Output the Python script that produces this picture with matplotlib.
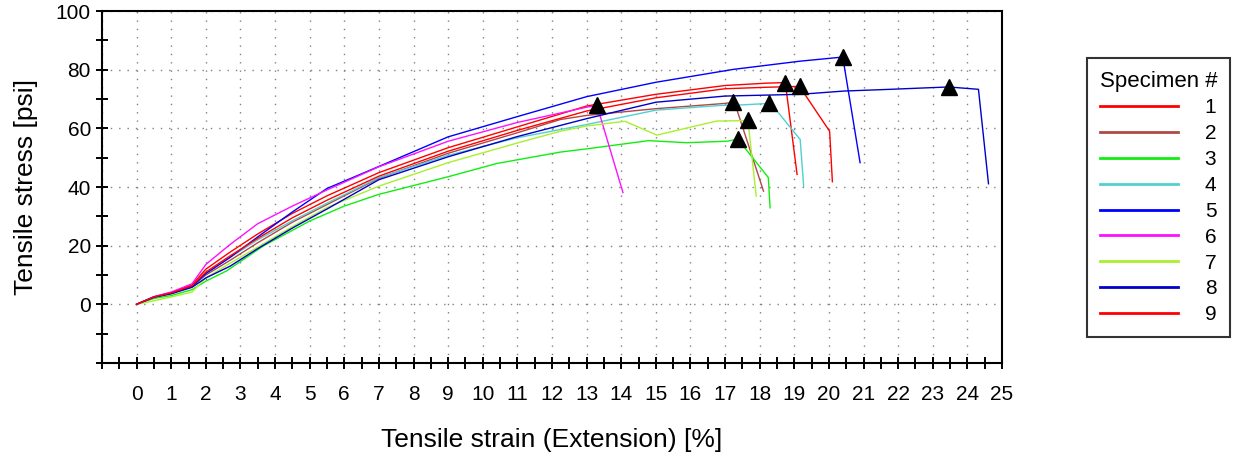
import numpy as np
import matplotlib
matplotlib.use("Agg")
import matplotlib.pyplot as plt

plt.rcParams['font.family'] = ['Liberation Sans', 'DejaVu Sans']

# strain [%] / stress [psi] for each specimen
s1_x = [0, 0.5, 1.0, 1.6, 2.0, 2.7, 3.5, 4.5, 5.5, 7.0, 9.0, 11.0, 13.0, 15.0, 17.0, 18.2, 18.74, 19.08]
s1_y = [0, 2.6, 4.0, 6.6, 12.0, 17.8, 24.0, 31.0, 37.0, 44.9, 53.4, 60.5, 67.6, 71.6, 74.6, 75.4, 75.6, 44.3]

s2_x = [0, 0.5, 1.0, 1.6, 2.0, 2.7, 3.5, 4.5, 5.5, 7.0, 9.0, 11.0, 12.24, 13.0, 15.0, 17.0, 17.23, 17.34, 18.11]
s2_y = [0, 2.5, 3.8, 6.2, 10.0, 15.0, 21.0, 28.0, 34.0, 43.0, 51.5, 58.5, 63.0, 64.4, 66.7, 68.5, 68.9, 66.4, 38.6]

s3_x = [0, 0.5, 1.0, 1.6, 2.0, 2.6, 3.66, 5.0, 6.0, 7.0, 9.0, 10.4, 12.24, 13.0, 14.79, 15.9, 17.05, 17.37, 18.25, 18.3]
s3_y = [0, 2.0, 3.0, 5.0, 7.9, 11.4, 19.9, 28.4, 33.5, 37.5, 43.5, 48.0, 51.9, 53.0, 55.8, 55.1, 55.6, 56.3, 43.2, 32.9]

s4_x = [0, 0.5, 1.0, 1.6, 2.0, 2.7, 3.5, 4.5, 5.5, 7.0, 9.0, 11.0, 13.0, 15.0, 16.86, 17.5, 18.28, 18.5, 19.17, 19.27]
s4_y = [0, 2.4, 3.8, 6.0, 10.5, 16.0, 22.0, 28.5, 34.5, 43.2, 50.8, 56.8, 61.3, 66.2, 67.8, 68.0, 68.5, 65.9, 56.2, 40.3]

s5_x = [0, 0.5, 1.0, 1.6, 2.0, 2.7, 3.5, 4.5, 5.5, 7.0, 9.0, 11.0, 13.0, 15.0, 17.24, 19.17, 20.4, 20.9]
s5_y = [0, 2.5, 3.8, 6.0, 10.5, 16.0, 23.0, 31.5, 39.5, 47.0, 57.1, 64.0, 70.8, 75.7, 80.1, 82.9, 84.3, 48.3]

s6_x = [0, 0.5, 1.0, 1.6, 2.0, 2.7, 3.5, 4.5, 5.5, 7.0, 9.0, 11.0, 13.0, 13.3, 14.05]
s6_y = [0, 2.6, 4.2, 7.0, 13.6, 20.4, 27.5, 33.5, 39.0, 46.9, 55.6, 62.0, 67.2, 67.8, 38.1]

s7_x = [0, 0.5, 1.0, 1.6, 2.0, 2.7, 3.5, 4.5, 5.5, 7.0, 9.0, 11.0, 12.24, 13.0, 14.11, 15.03, 16.76, 17.44, 17.66, 17.9]
s7_y = [0, 1.2, 2.5, 4.2, 9.0, 14.0, 19.5, 26.5, 33.0, 40.3, 48.3, 55.0, 59.0, 60.8, 62.4, 57.7, 62.5, 62.6, 62.7, 36.9]

s8_x = [0, 0.5, 1.0, 1.6, 2.0, 2.7, 3.5, 4.5, 5.5, 7.0, 9.0, 11.0, 13.0, 15.0, 17.0, 19.17, 20.42, 21.77, 23.02, 23.46, 24.32, 24.61]
s8_y = [0, 2.4, 3.6, 5.8, 9.0, 13.0, 19.0, 26.0, 32.5, 42.5, 50.3, 57.2, 63.3, 68.9, 71.0, 71.6, 72.7, 73.3, 73.9, 74.1, 73.3, 41.1]

s9_x = [0, 0.5, 1.0, 1.6, 2.0, 2.7, 3.5, 4.5, 5.5, 7.0, 9.0, 11.0, 13.0, 15.0, 17.0, 18.2, 18.8, 19.15, 20.02, 20.1]
s9_y = [0, 2.5, 3.9, 6.3, 11.0, 16.5, 22.5, 29.5, 35.5, 43.7, 52.2, 59.3, 65.9, 70.4, 73.5, 74.0, 74.2, 74.3, 59.0, 41.8]

specimens = ["1", "2", "3", "4", "5", "6", "7", "8", "9"]
xs = [s1_x, s2_x, s3_x, s4_x, s5_x, s6_x, s7_x, s8_x, s9_x]
ys = [s1_y, s2_y, s3_y, s4_y, s5_y, s6_y, s7_y, s8_y, s9_y]
colors = ["#ff0000", "#b04848", "#10ee10", "#50d0d0", "#0000ff",
          "#ff10ff", "#a8f030", "#0000c8", "#ff0000"]

fig = plt.figure(figsize=(12.36, 4.55), dpi=100)
ax = fig.add_axes([102 / 1236, 1 - 363 / 455, 900 / 1236, 352 / 455])

handles = []
for name, x, y, c in zip(specimens, xs, ys, colors):
    ln, = ax.plot(x, y, color=c, linewidth=1.0, label=name)
    handles.append(ln)
    # black triangle at the break (max stress)
    k = int(np.argmax(y))
    ax.plot(x[k], y[k], marker="^", color="black", markersize=11, zorder=5)

ax.set_xlim(-1, 25)
ax.set_ylim(-20, 100)

xt = np.arange(-1, 26, 1)
ax.set_xticks(xt)
ax.set_xticklabels(["" if v < 0 else str(v) for v in xt])
ax.set_xticks(np.arange(-0.5, 25, 1), minor=True)
yt = np.arange(-20, 101, 20)
ax.set_yticks(yt)
ax.set_yticklabels(["" if v < 0 else str(v) for v in yt])
ax.set_yticks(np.arange(-10, 100, 20), minor=True)

ax.tick_params(which="both", direction="inout", length=8, width=1.4, labelsize=15)
ax.tick_params(axis="x", which="both", pad=12)
ax.tick_params(axis="y", which="both", pad=4)

ax.grid(True, which="major", color="#808080", linestyle=(0, (1, 5)), linewidth=1.0)
for sp in ax.spines.values():
    sp.set_linewidth(1.5)

ax.set_xlabel("Tensile strain (Extension) [%]", fontsize=19, labelpad=17)
ax.set_ylabel("Tensile stress [psi]", fontsize=19, labelpad=13)

leg = fig.legend(handles=handles, title="Specimen #", loc="upper left",
                 bbox_to_anchor=(1087 / 1236, 1 - 58 / 455), borderaxespad=0,
                 fontsize=15, title_fontsize=16, handlelength=3.75,
                 handletextpad=1.3, labelspacing=0.33, borderpad=0.6,
                 frameon=True, fancybox=False, edgecolor="black",
                 alignment="left")
leg.get_frame().set_linewidth(1.5)
for h in leg.legend_handles:
    h.set_linewidth(2.0)

fig.savefig("out.png", dpi=100)
